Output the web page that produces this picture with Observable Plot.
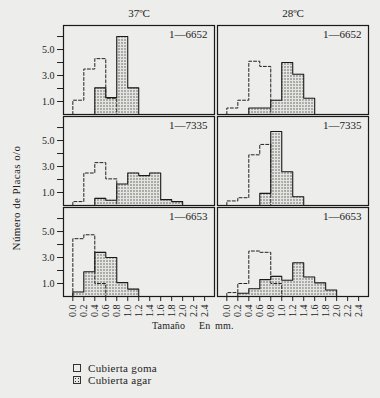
<!DOCTYPE html>
<html><head><meta charset="utf-8">
<script src="https://cdn.jsdelivr.net/npm/d3@7"></script>
<script src="https://cdn.jsdelivr.net/npm/@observablehq/plot@0.6"></script>
<style>
html,body{margin:0;padding:0;background:#ededeb;}
#wrap{position:relative;width:380px;height:398px;overflow:hidden;font-family:"Liberation Serif","DejaVu Serif",serif;color:#222;}
#wrap svg{position:absolute;left:0;top:0;}
.leg{position:absolute;left:73px;height:10px;font-size:11px;letter-spacing:0.3px;display:flex;align-items:center;white-space:nowrap;}
.sw{width:8px;height:8px;border:1px solid #333;margin-right:7px;box-sizing:border-box;}
.sw.agar{background:#e6e6e2 radial-gradient(circle,#333 0.7px,transparent 0.9px) 0 0/3px 3px;}
</style></head><body><div id="wrap"></div>
<script>
const temps = ["37ºC", "28ºC"];
const strains = ["1—6652", "1—7335", "1—6653"];
const binEdges = [0.0, 0.2, 0.4, 0.6, 0.8, 1.0, 1.2, 1.4, 1.6, 1.8, 2.0, 2.2, 2.4];
const yTicks = [1, 2, 3, 4, 5, 6];
const seriesNames = ["Cubierta goma", "Cubierta agar"];

// values per 0.2 mm bin, starting at 0.0
const goma_37_6652 = [1.1, 3.5, 4.3, 1.25];
const agar_37_6652 = [0, 0, 2.05, 1.3, 6.0, 2.05];
const goma_37_7335 = [0.3, 2.5, 3.3, 2.05];
const agar_37_7335 = [0, 0, 0.55, 0.4, 1.65, 2.5, 2.3, 2.5, 0.45, 0.3];
const goma_37_6653 = [4.45, 4.75, 1.0];
const agar_37_6653 = [0.35, 1.9, 3.4, 3.0, 1.07, 0.57];
const goma_28_6652 = [0.5, 1.1, 4.1, 3.7];
const agar_28_6652 = [0, 0, 0.5, 0.5, 1.1, 4.0, 3.1, 1.25];
const goma_28_7335 = [0.35, 0.6, 3.9, 4.7];
const agar_28_7335 = [0, 0, 0, 0.93, 5.7, 2.6, 0.67];
const goma_28_6653 = [0.3, 1.0, 3.5, 3.4, 1.0];
const agar_28_6653 = [0, 0.25, 0.6, 1.3, 1.55, 1.25, 2.6, 1.5, 1.05, 0.5];

const panels = [
  {temp: temps[0], strain: strains[0], goma: goma_37_6652, agar: agar_37_6652},
  {temp: temps[0], strain: strains[1], goma: goma_37_7335, agar: agar_37_7335},
  {temp: temps[0], strain: strains[2], goma: goma_37_6653, agar: agar_37_6653},
  {temp: temps[1], strain: strains[0], goma: goma_28_6652, agar: agar_28_6652},
  {temp: temps[1], strain: strains[1], goma: goma_28_7335, agar: agar_28_7335},
  {temp: temps[1], strain: strains[2], goma: goma_28_6653, agar: agar_28_6653}
];

function rects(p, key) {
  return p[key].map((v, i) => ({temp: p.temp, strain: p.strain, x1: binEdges[i], x2: binEdges[i + 1], v}))
    .filter(d => d.v > 0);
}
function outline(p, key) {
  const vals = p[key];
  let i0 = vals.findIndex(v => v > 0), i1 = vals.length - 1;
  while (i1 >= 0 && !(vals[i1] > 0)) i1--;
  const pts = [];
  const k = p.temp + p.strain + key;
  pts.push({key: k, temp: p.temp, strain: p.strain, x: binEdges[i0], y: 0});
  for (let i = i0; i <= i1; i++) {
    pts.push({key: k, temp: p.temp, strain: p.strain, x: binEdges[i], y: vals[i]});
    pts.push({key: k, temp: p.temp, strain: p.strain, x: binEdges[i + 1], y: vals[i]});
  }
  pts.push({key: k, temp: p.temp, strain: p.strain, x: binEdges[i1 + 1], y: 0});
  return pts;
}
const agarRects = panels.flatMap(p => rects(p, "agar"));
const agarPts = panels.flatMap(p => outline(p, "agar"));
const gomaPts = panels.flatMap(p => outline(p, "goma"));
const topRow = temps.map(t => ({temp: t, strain: strains[0]}));

const svg = Plot.plot({
  width: 380, height: 340,
  marginLeft: 62, marginRight: 12, marginTop: 25, marginBottom: 44,
  style: {background: "transparent", fontFamily: "'Liberation Serif', 'DejaVu Serif', serif", fontSize: "10px", color: "#222"},
  fx: {domain: temps, paddingInner: 0.02, paddingOuter: 0, label: null, axis: null},
  fy: {domain: strains, paddingInner: 0.022, paddingOuter: 0, label: null, axis: null},
  x: {domain: [-0.17, 2.58], label: null, ticks: binEdges, tickFormat: d => d.toFixed(1), tickRotate: -90, tickSize: 5, tickPadding: 3},
  y: {domain: [0, 6.85], label: null, ticks: yTicks, tickFormat: d => (d % 2 === 1 ? d.toFixed(1) : ""), tickSize: 6, tickPadding: 3},
  marks: [
    Plot.rectY(agarRects, {x1: "x1", x2: "x2", y: "v", fx: "temp", fy: "strain", fill: "url(#stipple)"}),
    Plot.line(agarPts, {x: "x", y: "y", z: "key", fx: "temp", fy: "strain", stroke: "#1a1a1a", strokeWidth: 1.1}),
    Plot.line(gomaPts, {x: "x", y: "y", z: "key", fx: "temp", fy: "strain", stroke: "#222", strokeWidth: 1, strokeDasharray: "3,2"}),
    Plot.frame({stroke: "#1a1a1a", strokeWidth: 1.2}),
    Plot.text(panels, {fx: "temp", fy: "strain", text: "strain", frameAnchor: "top-right", lineAnchor: "top", dx: -7, dy: 5, fontSize: 11}),
    Plot.text(topRow, {fx: "temp", fy: "strain", text: "temp", frameAnchor: "top", lineAnchor: "middle", dy: -12, fontSize: 11})
  ]
});

const s = d3.select(svg);
const pat = s.insert("defs", ":first-child").append("pattern")
  .attr("id", "stipple").attr("width", 3).attr("height", 3).attr("patternUnits", "userSpaceOnUse");
pat.append("rect").attr("width", 3).attr("height", 3).attr("fill", "#e4e4e0");
pat.append("circle").attr("cx", 1).attr("cy", 1).attr("r", 0.7).attr("fill", "#444");

const ff = "'Liberation Serif', 'DejaVu Serif', serif";
s.append("text").attr("transform", "translate(20,198) rotate(-90)").attr("text-anchor", "middle")
  .attr("font-size", 11).attr("font-family", ff).attr("letter-spacing", 0.4).attr("fill", "#222").text("Número de Placas o/o");
[["Tamaño", 152], ["En", 199], ["mm.", 215]].forEach(([t, x]) => {
  s.append("text").attr("x", x).attr("y", 329).attr("text-anchor", "start").attr("font-size", 10).attr("font-family", ff)
    .attr("letter-spacing", 0.2).attr("fill", "#222").text(t);
});

const wrap = document.getElementById("wrap");
wrap.appendChild(svg);
seriesNames.forEach((name, i) => {
  const d = document.createElement("div");
  d.className = "leg";
  d.style.top = (363 + i * 12) + "px";
  d.innerHTML = `<span class="sw ${i ? "agar" : ""}"></span><span>${name}</span>`;
  wrap.appendChild(d);
});
</script></body></html>
